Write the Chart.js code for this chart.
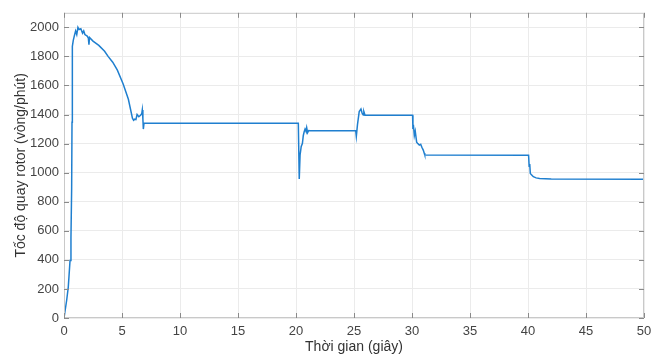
<!DOCTYPE html>
<html>
<head>
<meta charset="utf-8">
<script src="https://cdn.jsdelivr.net/npm/chart.js@4.4.0/dist/chart.umd.min.js"></script>
<style>
  html, body { margin: 0; padding: 0; background: #fff; }
  #wrap { width: 661px; height: 356px; position: relative; }
</style>
</head>
<body>
<div id="wrap"><canvas id="speedChart"></canvas></div>
<script>
// Time (s) and rotor speed (rpm)
const times = [
  0, 0.23, 0.37, 0.52, 0.6, 0.66, 0.69, 0.72, 0.8, 0.9,
  1.0, 1.1, 1.2, 1.3, 1.45, 1.6, 1.7, 1.8, 2.0, 2.1,
  2.15, 2.2, 2.5, 3.0, 3.5, 3.8, 4.2, 4.6, 5.1, 5.55,
  5.9, 6.0, 6.1, 6.2, 6.3, 6.45, 6.6, 6.7, 6.75, 6.8,
  6.84, 6.9, 20.2, 20.25, 20.28, 20.35, 20.45, 20.55, 20.63, 20.7,
  20.78, 20.86, 20.92, 21.0, 21.1, 21.2, 25.15, 25.2, 25.3, 25.45,
  25.6, 25.7, 25.8, 25.85, 25.95, 29.98, 30.05, 30.08, 30.12, 30.2,
  30.28, 30.4, 30.5, 30.63, 30.75, 30.85, 30.97, 31.05, 31.1, 39.98,
  40.05, 40.1, 40.15, 40.2, 40.3, 40.46, 40.7, 41.0, 42.0, 50
];
const speeds = [
  0, 122, 213, 395, 553, 893, 1347, 1869, 1910, 1945,
  1975, 1950, 2000, 1985, 1990, 1960, 1975, 1950, 1940, 1925,
  1880, 1930, 1905, 1876, 1835, 1800, 1760, 1705, 1610, 1505,
  1375, 1360, 1368, 1365, 1400, 1385, 1395, 1405, 1432, 1370,
  1300, 1342, 1340, 1340, 957, 1120, 1180, 1200, 1256, 1280,
  1300, 1285, 1310, 1275, 1290, 1288, 1288, 1250, 1330, 1420,
  1438, 1410, 1397, 1420, 1395, 1395, 1395, 1300, 1330, 1255,
  1285, 1210, 1200, 1190, 1195, 1175, 1155, 1135, 1122, 1120,
  1120, 1045, 1060, 995, 985, 972, 964, 960, 956, 955
];

const xTickValues = [0, 5, 10, 15, 20, 25, 30, 35, 40, 45, 50];
const yTickValues = [0, 200, 400, 600, 800, 1000, 1200, 1400, 1600, 1800, 2000];

const xTitle = 'Thời gian (giây)';
const yTitle = 'Tốc độ quay rotor (vòng/phút)';

const points = times.map((t, i) => ({ x: t, y: speeds[i] }));

// MATLAB-like box with small inward ticks on all four sides
const boxPlugin = {
  id: 'box',
  afterDraw(chart) {
    const { ctx, chartArea: a, scales } = chart;
    ctx.save();
    ctx.strokeStyle = '#c9c9c9';
    ctx.lineWidth = 1;
    ctx.strokeRect(a.left + 0.5, a.top + 0.5, a.right - a.left - 1, a.bottom - a.top - 1);
    ctx.strokeStyle = '#8a8a8a';
    ctx.beginPath();
    scales.x.ticks.forEach(t => {
      const px = Math.round(scales.x.getPixelForValue(t.value)) + 0.5;
      ctx.moveTo(px, a.bottom); ctx.lineTo(px, a.bottom - 5);
      ctx.moveTo(px, a.top); ctx.lineTo(px, a.top + 5);
    });
    scales.y.ticks.forEach(t => {
      const py = Math.round(scales.y.getPixelForValue(t.value)) + 0.5;
      ctx.moveTo(a.left, py); ctx.lineTo(a.left + 5, py);
      ctx.moveTo(a.right, py); ctx.lineTo(a.right - 5, py);
    });
    ctx.stroke();
    ctx.restore();
  }
};

const ctx = document.getElementById('speedChart').getContext('2d');
new Chart(ctx, {
  type: 'line',
  data: {
    datasets: [{
      data: points,
      borderColor: '#1f7fcf',
      borderWidth: 1.5,
      pointRadius: 0,
      tension: 0,
      fill: false
    }]
  },
  options: {
    responsive: true,
    maintainAspectRatio: false,
    animation: false,
    layout: { padding: { top: 8, right: 17, bottom: 0, left: 0 } },
    plugins: {
      legend: { display: false },
      tooltip: { enabled: false }
    },
    scales: {
      x: {
        type: 'linear',
        min: 0,
        max: 50,
        afterFit: s => { s.height = 38; },
        afterBuildTicks: s => { s.ticks = xTickValues.map(v => ({ value: v })); },
        grid: { color: '#ebebeb', drawTicks: false },
        border: { display: false },
        ticks: {
          padding: 6,
          color: '#444',
          callback: v => String(v),
          font: { family: 'Liberation Sans', size: 13 }
        },
        title: {
          display: true,
          text: xTitle,
          color: '#333',
          font: { family: 'Liberation Sans', size: 14 },
          padding: { top: 0, bottom: 0 }
        }
      },
      y: {
        min: 0,
        max: 2100,
        afterFit: s => { s.width = 64; },
        afterBuildTicks: s => { s.ticks = yTickValues.map(v => ({ value: v })); },
        grid: { color: '#ebebeb', drawTicks: false },
        border: { display: false },
        ticks: {
          padding: 5,
          color: '#444',
          callback: v => String(v),
          font: { family: 'Liberation Sans', size: 13 }
        },
        title: {
          display: true,
          text: yTitle,
          color: '#333',
          font: { family: 'Liberation Sans', size: 14 },
          padding: { top: 13, bottom: 0 }
        }
      }
    }
  },
  plugins: [boxPlugin]
});
</script>
</body>
</html>
